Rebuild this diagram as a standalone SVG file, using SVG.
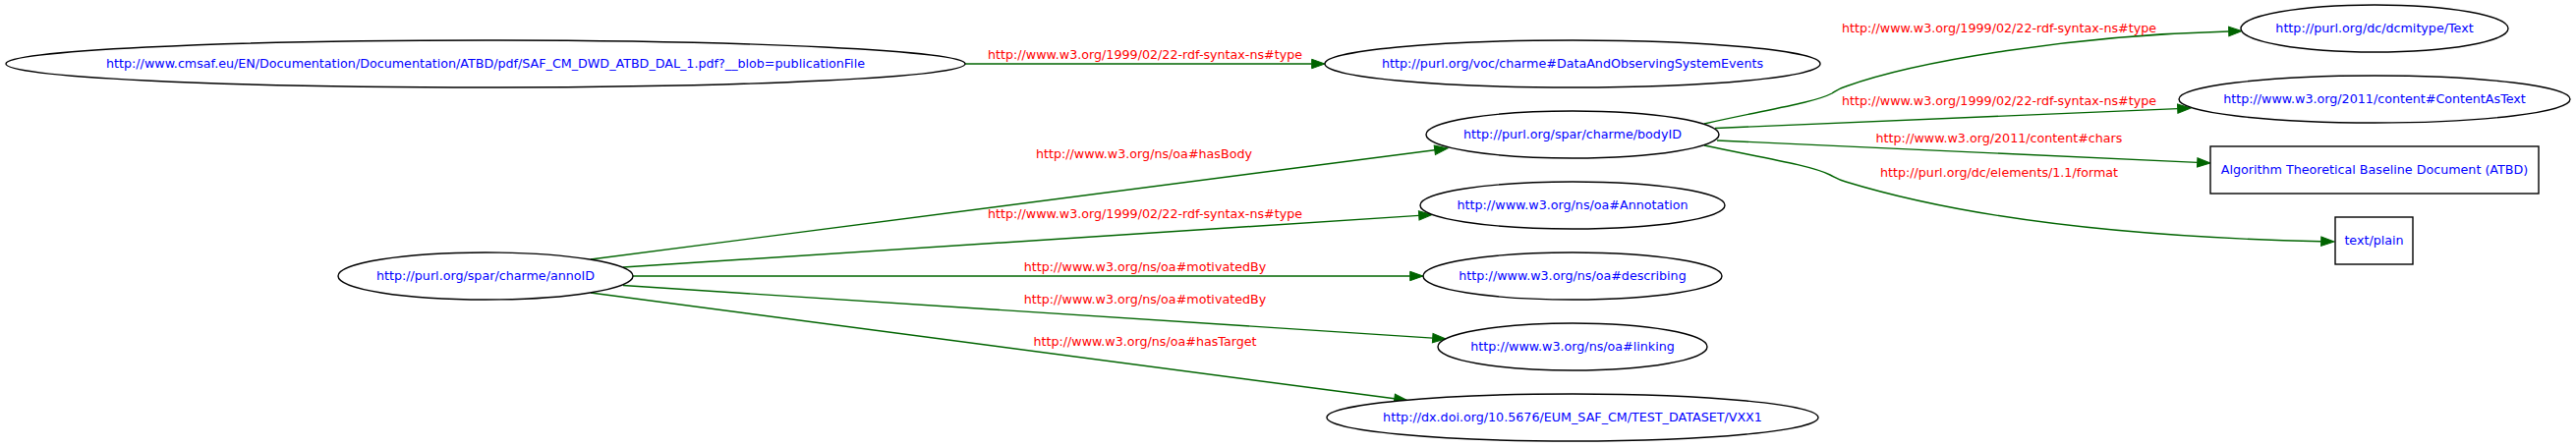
<svg xmlns="http://www.w3.org/2000/svg" width="2621" height="455" viewBox="0 0 2621 455">
<style>
.n ellipse, .n rect { fill: #ffffff; stroke: #000000; stroke-width: 1.4; }
.n text { font-family: "DejaVu Sans", "Liberation Sans", sans-serif; font-size: 12.7px; fill: #0000ff; text-anchor: middle; }
.e path { fill: none; stroke: #006400; stroke-width: 1.4; marker-end: url(#arr); }
.lbl { font-family: "DejaVu Sans", "Liberation Sans", sans-serif; font-size: 12.7px; fill: #ff0000; text-anchor: middle; }
</style>
<defs>
<marker id="arr" markerUnits="userSpaceOnUse" markerWidth="16" markerHeight="12" refX="0" refY="5" orient="auto" overflow="visible">
<path d="M0,0.3 L13.3,5 L0,9.7 z" fill="#006400" stroke="#006400" stroke-width="1"/>
</marker>
</defs>
<rect width="2621" height="455" fill="#ffffff"/>
<g id="connectors" class="e">
<path d="M982,65 L1334.7,65"/>
<path d="M601,264 L1459.8,152.7"/>
<path d="M634,272 L1443.7,219.4"/>
<path d="M644,281 L1434.7,281"/>
<path d="M634,290.5 L1457.7,344.1"/>
<path d="M601,298 L1418.8,405.8"/>
<path d="M1734,126 C1795,112 1845,105 1864,95 C1869,92 1871,90 1878,88 C1950,62 2110,36 2267.7,32"/>
<path d="M1745,130.5 L2215.7,110.6"/>
<path d="M1747,143 L2235.7,165.4"/>
<path d="M1734,148 C1790,160 1842,168 1862,178 C1868,181 1870,183 1878,185 C1960,210 2100,240 2361.7,245.7"/>
</g>
<g id="edge-labels">
<text class="lbl" x="1165" y="60">http://www.w3.org/1999/02/22-rdf-syntax-ns#type</text>
<text class="lbl" x="1164" y="161">http://www.w3.org/ns/oa#hasBody</text>
<text class="lbl" x="1165" y="221.5">http://www.w3.org/1999/02/22-rdf-syntax-ns#type</text>
<text class="lbl" x="1165" y="276">http://www.w3.org/ns/oa#motivatedBy</text>
<text class="lbl" x="1165" y="308.5">http://www.w3.org/ns/oa#motivatedBy</text>
<text class="lbl" x="1165" y="351.5">http://www.w3.org/ns/oa#hasTarget</text>
<text class="lbl" x="2034" y="32.5">http://www.w3.org/1999/02/22-rdf-syntax-ns#type</text>
<text class="lbl" x="2034" y="106.5">http://www.w3.org/1999/02/22-rdf-syntax-ns#type</text>
<text class="lbl" x="2034" y="144.5">http://www.w3.org/2011/content#chars</text>
<text class="lbl" x="2034" y="179.5">http://purl.org/dc/elements/1.1/format</text>
</g>
<g id="node-cmsaf" class="n"><ellipse cx="494" cy="65" rx="488" ry="24"/><text x="494" y="69">http://www.cmsaf.eu/EN/Documentation/Documentation/ATBD/pdf/SAF_CM_DWD_ATBD_DAL_1.pdf?__blob=publicationFile</text></g>
<g id="node-dao" class="n"><ellipse cx="1600" cy="65" rx="252" ry="24"/><text x="1600" y="69">http://purl.org/voc/charme#DataAndObservingSystemEvents</text></g>
<g id="node-bodyID" class="n"><ellipse cx="1600" cy="137" rx="149" ry="24"/><text x="1600" y="141">http://purl.org/spar/charme/bodyID</text></g>
<g id="node-annotation" class="n"><ellipse cx="1600" cy="209" rx="155" ry="24"/><text x="1600" y="213">http://www.w3.org/ns/oa#Annotation</text></g>
<g id="node-describing" class="n"><ellipse cx="1600" cy="281" rx="152" ry="24"/><text x="1600" y="285">http://www.w3.org/ns/oa#describing</text></g>
<g id="node-linking" class="n"><ellipse cx="1600" cy="353" rx="137" ry="24"/><text x="1600" y="357">http://www.w3.org/ns/oa#linking</text></g>
<g id="node-dataset" class="n"><ellipse cx="1600" cy="425" rx="250" ry="24"/><text x="1600" y="429">http://dx.doi.org/10.5676/EUM_SAF_CM/TEST_DATASET/VXX1</text></g>
<g id="node-annoID" class="n"><ellipse cx="494" cy="281" rx="150" ry="24"/><text x="494" y="285">http://purl.org/spar/charme/annoID</text></g>
<g id="node-text" class="n"><ellipse cx="2416" cy="29" rx="136" ry="24"/><text x="2416" y="33">http://purl.org/dc/dcmitype/Text</text></g>
<g id="node-contentastext" class="n"><ellipse cx="2416" cy="101" rx="199" ry="24"/><text x="2416" y="105">http://www.w3.org/2011/content#ContentAsText</text></g>
<g id="node-atbd" class="n"><rect x="2249" y="149" width="334" height="48"/><text x="2416" y="177">Algorithm Theoretical Baseline Document (ATBD)</text></g>
<g id="node-textplain" class="n"><rect x="2376" y="221" width="79" height="48"/><text x="2415.5" y="249">text/plain</text></g>
</svg>
